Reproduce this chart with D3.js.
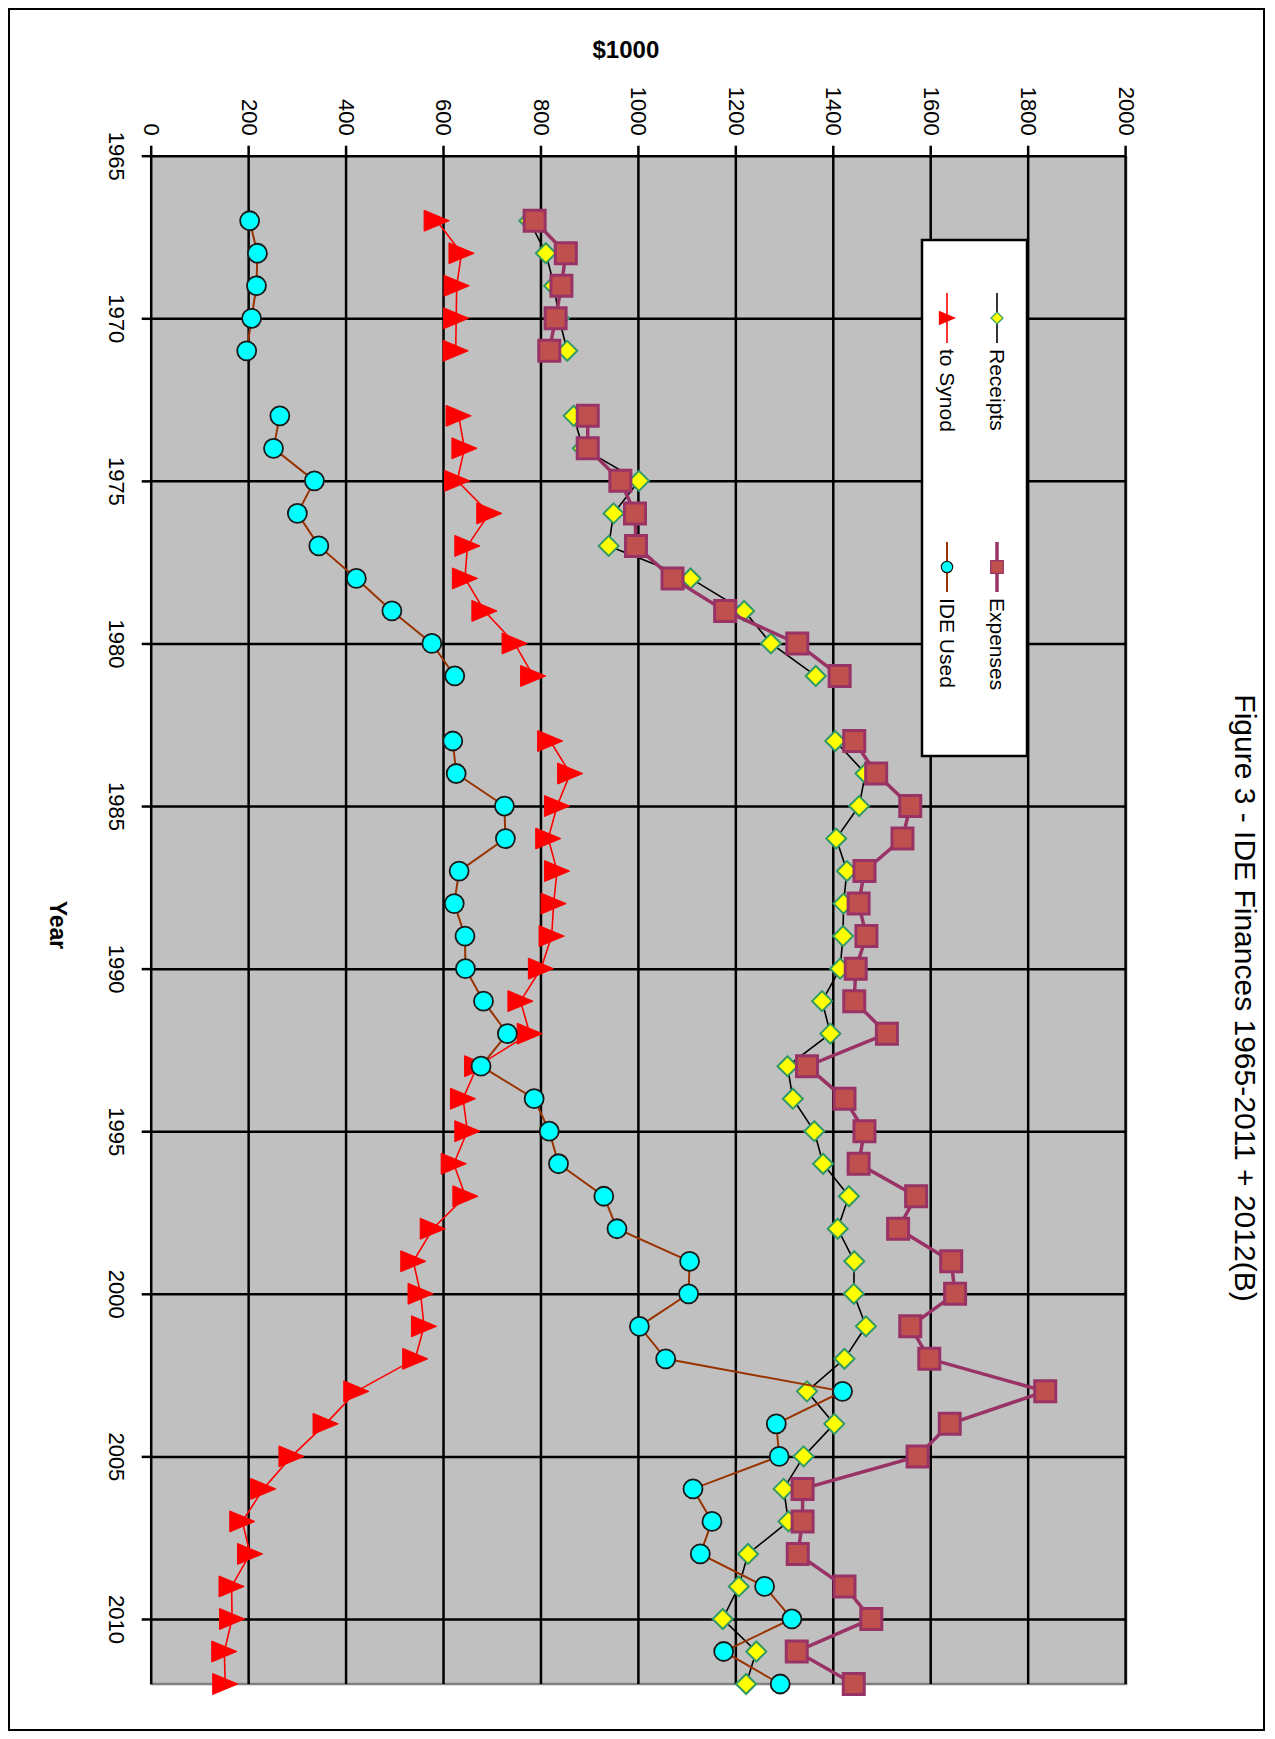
<!DOCTYPE html>
<html>
<head>
<meta charset="utf-8">
<script src="https://cdn.jsdelivr.net/npm/d3@7"></script>
<style>
  body { margin: 0; background: #fff; }
  text { font-family: 'Liberation Sans', Arial, sans-serif; fill: #000; }
</style>
</head>
<body>
<div id="chart"></div>
<script>
// IDE Finances, values in $1000 (1972 and 1982 have no data)
const years = [1967, 1968, 1969, 1970, 1971, 1972, 1973, 1974, 1975, 1976, 1977, 1978, 1979, 1980, 1981, 1982,
    1983, 1984, 1985, 1986, 1987, 1988, 1989, 1990, 1991, 1992, 1993, 1994, 1995, 1996, 1997, 1998, 1999,
    2000, 2001, 2002, 2003, 2004, 2005, 2006, 2007, 2008, 2009, 2010, 2011, 2012];
const receipts = [775, 809, 826, 836, 853, null, 866, 885, 1000, 948, 938, 1106, 1216, 1271, 1363, null,
    1403, 1465, 1452, 1405, 1427, 1420, 1419, 1413, 1376, 1393, 1305, 1316, 1360, 1378, 1431, 1408, 1442,
    1441, 1466, 1422, 1345, 1401, 1338, 1297, 1307, 1224, 1205, 1172, 1241, 1220];
const expenses = [786, 850, 841, 829, 816, null, 895, 895, 962, 992, 994, 1069, 1177, 1325, 1412, null,
    1442, 1487, 1557, 1541, 1463, 1451, 1467, 1445, 1442, 1509, 1345, 1422, 1463, 1451, 1569, 1532, 1641,
    1649, 1557, 1596, 1834, 1638, 1572, 1336, 1336, 1326, 1422, 1477, 1324, 1441];
const toSynod = [585, 636, 626, 625, 624, null, 630, 642, 627, 693, 648, 643, 683, 745, 783, null,
    818, 859, 832, 814, 832, 825, 821, 799, 757, 776, 668, 639, 648, 620, 644, 577, 537,
    552, 559, 541, 420, 357, 287, 229, 186, 202, 164, 165, 149, 151];
const ideUsed = [201, 217, 215, 205, 195, null, 263, 250, 334, 299, 343, 420, 493, 575, 622, null,
    618, 625, 724, 726, 631, 621, 643, 644, 681, 730, 676, 785, 816, 835, 928, 955, 1104,
    1102, 1001, 1055, 1418, 1282, 1288, 1111, 1150, 1126, 1258, 1314, 1174, 1290];

const yearTicks = [1965, 1970, 1975, 1980, 1985, 1990, 1995, 2000, 2005, 2010];
const valueTicks = [0, 200, 400, 600, 800, 1000, 1200, 1400, 1600, 1800, 2000];
const seriesNames = ['Receipts', 'Expenses', 'to Synod', 'IDE Used'];

const pageW = 1275;
const pageH = 1739;

// the chart is laid out landscape and then turned a quarter clockwise
const plotLeft = 155.7, plotRight = 1684, plotTop = 148.9, plotBottom = 1123.3;

const svg = d3.select('#chart')
    .append('svg')
    .attr('width', pageW)
    .attr('height', pageH);

svg.append('rect')
    .attr('x', 9)
    .attr('y', 9)
    .attr('width', 1255)
    .attr('height', 1721)
    .attr('fill', 'none')
    .attr('stroke', '#000')
    .attr('stroke-width', 2);

const g = svg.append('g')
    .attr('transform', `translate(${pageW},0) rotate(90)`);

const xScale = d3.scaleLinear()
    .domain([1965, 2012])
    .range([plotLeft, plotRight]);

const yScale = d3.scaleLinear()
    .domain([0, 2000])
    .range([plotBottom, plotTop]);

// plot area
g.append('rect')
    .attr('x', plotLeft)
    .attr('y', plotTop)
    .attr('width', plotRight - plotLeft)
    .attr('height', plotBottom - plotTop)
    .attr('fill', '#c0c0c0');

g.append('path')
    .attr('d', `M${plotLeft},${plotTop}H${plotRight}V${plotBottom}`)
    .attr('fill', 'none')
    .attr('stroke', '#808080')
    .attr('stroke-width', 2.5);

// gridlines
g.append('g')
    .attr('transform', `translate(${plotLeft},0)`)
    .call(d3.axisLeft(yScale).tickValues(valueTicks.slice(1)).tickSize(-(plotRight - plotLeft)).tickFormat(''))
    .call(s => s.select('.domain').remove())
    .selectAll('line')
    .attr('stroke', '#000')
    .attr('stroke-width', 2.5);

g.append('g')
    .attr('transform', `translate(0,${plotBottom})`)
    .call(d3.axisBottom(xScale).tickValues(yearTicks.slice(1)).tickSize(-(plotBottom - plotTop)).tickFormat(''))
    .call(s => s.select('.domain').remove())
    .selectAll('line')
    .attr('stroke', '#000')
    .attr('stroke-width', 2.5);

// axes
const yAxis = g.append('g')
    .attr('transform', `translate(${plotLeft},0)`)
    .call(d3.axisLeft(yScale).tickValues(valueTicks).tickFormat(d3.format('d')).tickSize(10).tickSizeOuter(0).tickPadding(10));

const xAxis = g.append('g')
    .attr('transform', `translate(0,${plotBottom})`)
    .call(d3.axisBottom(xScale).tickValues(yearTicks).tickFormat(d3.format('d')).tickSize(10).tickSizeOuter(0).tickPadding(17));

[yAxis, xAxis].forEach(a => {
    a.select('.domain').attr('stroke', '#000').attr('stroke-width', 2.5);
    a.selectAll('line').attr('stroke', '#000').attr('stroke-width', 2.5);
    a.selectAll('text').style('font-size', '22px').attr('fill', '#000');
});

g.append('text')
    .attr('transform', `translate(58,${(plotTop + plotBottom) / 2 + 13}) rotate(-90)`)
    .attr('text-anchor', 'middle')
    .style('font-size', '24px')
    .style('font-weight', 'bold')
    .text('$1000');

g.append('text')
    .attr('x', 925)
    .attr('y', 1225)
    .attr('text-anchor', 'middle')
    .style('font-size', '23px')
    .style('font-weight', 'bold')
    .text('Year');

g.append('text')
    .attr('x', 998)
    .attr('y', 40)
    .attr('text-anchor', 'middle')
    .style('font-size', '30px')
    .text('Figure 3 - IDE Finances 1965-2011 + 2012(B)');

// marker shapes
const markers = {
    diamond: r => `M0,${-r}L${r},0L0,${r}L${-r},0Z`,
    square: r => `M${-r},${-r}H${r}V${r}H${-r}Z`,
    triangle: r => `M0,${-r * 1.2}L${r},${r * 1.2}L${-r},${r * 1.2}Z`,
    circle: r => `M${r},0A${r},${r} 0 1,1 ${-r},0A${r},${r} 0 1,1 ${r},0Z`
};

const series = [
    { name: 'Receipts', values: receipts, line: '#000', width: 1.6, shape: 'diamond', r: 10, fill: '#ffff00', stroke: '#339966', sw: 2 },
    { name: 'Expenses', values: expenses, line: '#993366', width: 3.5, shape: 'square', r: 10.5, fill: '#c0504d', stroke: '#993366', sw: 3 },
    { name: 'to Synod', values: toSynod, line: '#ff0000', width: 1.6, shape: 'triangle', r: 10.5, fill: '#ff0000', stroke: '#ff0000', sw: 1 },
    { name: 'IDE Used', values: ideUsed, line: '#993300', width: 2, shape: 'circle', r: 9.5, fill: '#00ffff', stroke: '#1a1a1a', sw: 1.8 }
];

const line = d3.line()
    .defined(d => d.v !== null)
    .x(d => xScale(d.year))
    .y(d => yScale(d.v));

series.forEach(s => {
    const pts = years.map((year, i) => ({ year: year, v: s.values[i] }));
    const sg = g.append('g');
    sg.append('path')
        .datum(pts)
        .attr('d', line)
        .attr('fill', 'none')
        .attr('stroke', s.line)
        .attr('stroke-width', s.width);
    sg.selectAll('path.mk')
        .data(pts.filter(d => d.v !== null))
        .enter()
        .append('path')
        .attr('class', 'mk')
        .attr('d', markers[s.shape](s.r))
        .attr('transform', d => `translate(${xScale(d.year)},${yScale(d.v)})`)
        .attr('fill', s.fill)
        .attr('stroke', s.stroke)
        .attr('stroke-width', s.sw);
});

// legend
const legend = g.append('g');
legend.append('rect')
    .attr('x', 240)
    .attr('y', 248)
    .attr('width', 516)
    .attr('height', 105)
    .attr('fill', '#fff')
    .attr('stroke', '#000')
    .attr('stroke-width', 2.5);

const legendPos = [[293, 278], [542, 278], [293, 328], [542, 328]];
series.forEach((s, i) => {
    const [lx, ly] = legendPos[i];
    const item = legend.append('g').attr('transform', `translate(${lx},${ly})`);
    item.append('line')
        .attr('x1', 0)
        .attr('x2', 50)
        .attr('stroke', s.line)
        .attr('stroke-width', s.width);
    item.append('path')
        .attr('d', markers[s.shape](s.r * 0.6))
        .attr('transform', 'translate(25,0)')
        .attr('fill', s.fill)
        .attr('stroke', s.stroke)
        .attr('stroke-width', 1.2);
    item.append('text')
        .attr('x', 56)
        .attr('dy', '0.35em')
        .style('font-size', '21px')
        .text(seriesNames[i]);
});
</script>
</body>
</html>
